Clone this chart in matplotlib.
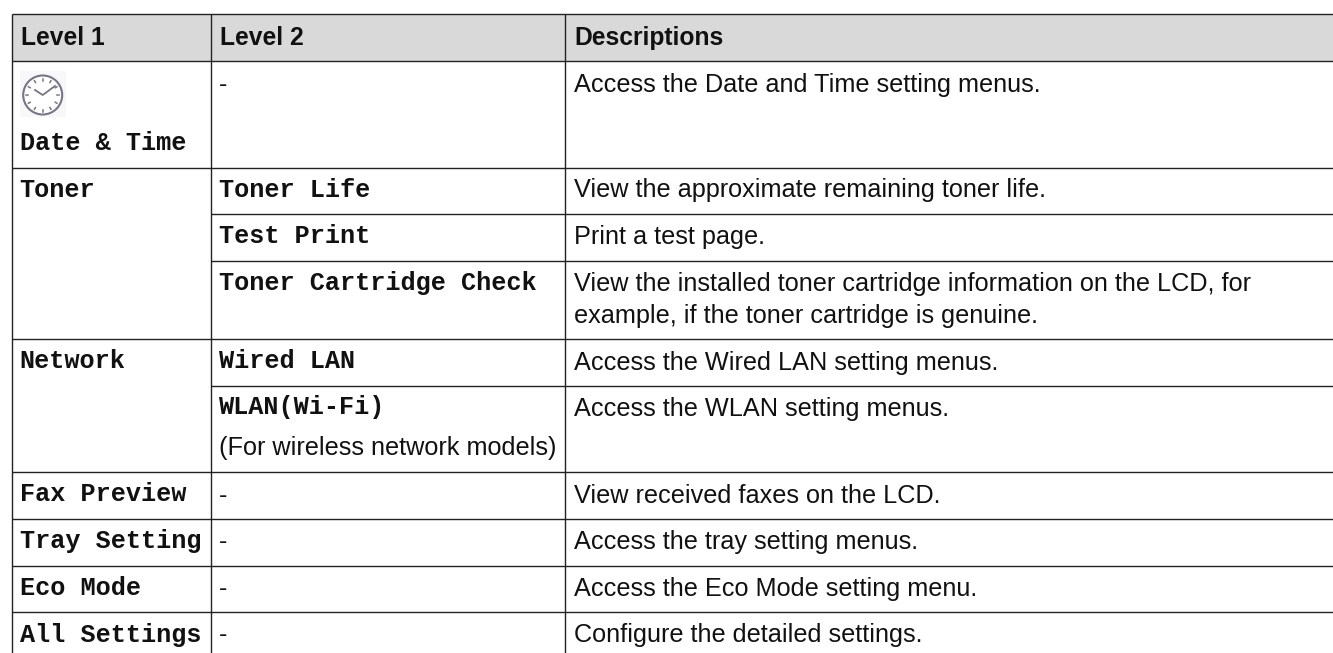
import numpy as np
import matplotlib
matplotlib.use("Agg")
import matplotlib.pyplot as plt
from matplotlib.patches import Rectangle, Circle

W, H = 1333, 653
SANS = "Liberation Sans"
MONO = "Liberation Mono"

headers = ["Level 1", "Level 2", "Descriptions"]
level1 = ["Date & Time", "Toner", "Network", "Fax Preview", "Tray Setting", "Eco Mode", "All Settings"]
level1_y = [150, 196.7, 368.3, 501, 548, 595, 641.7]
level2 = ["Toner Life", "Test Print", "Toner Cartridge Check", "Wired LAN", "WLAN(Wi-Fi)"]
level2_y = [196.7, 242.7, 290, 368.3, 414.3]
note = "(For wireless network models)"
dash_y = [91.7, 502.7, 549.3, 595.7, 642.3]
desc = ["Access the Date and Time setting menus.",
        "View the approximate remaining toner life.",
        "Print a test page.",
        "View the installed toner cartridge information on the LCD, for",
        "example, if the toner cartridge is genuine.",
        "Access the Wired LAN setting menus.",
        "Access the WLAN setting menus.",
        "View received faxes on the LCD.",
        "Access the tray setting menus.",
        "Access the Eco Mode setting menu.",
        "Configure the detailed settings."]
desc_y = [91.7, 197.3, 244.3, 291, 322.7, 370, 416, 502.7, 549.3, 595.7, 642.3]
full_lines = [14, 61, 167.7, 338.5, 471.7, 519, 565.7, 612.3]
level2_lines = [214.3, 261, 385.7]

fig = plt.figure(figsize=(W / 100, H / 100), dpi=100)
ax = fig.add_axes([0, 0, 1, 1])
ax.set_xlim(0, W)
ax.set_ylim(H, 0)
ax.axis("off")

X0, X1, X2 = 11.7, 210.7, 565
ax.add_patch(Rectangle((X0, 14), W - X0, 47, fc="#d9d9d9", ec="none"))
c = "#222222"
for y in full_lines:
    ax.plot([X0, W], [y, y], color=c, lw=1.0, solid_capstyle="butt")
for y in level2_lines:
    ax.plot([X1, W], [y, y], color=c, lw=1.0, solid_capstyle="butt")
for x in [X0, X1, X2]:
    ax.plot([x, x], [14, H], color=c, lw=1.0, solid_capstyle="butt")

TXT = "#111111"
FS = 18.15
for x, t in zip([21, 220, 574], headers):
    ax.text(x, 45, t, family=SANS, weight="bold", fontsize=17.7, va="baseline", color=TXT)
for t, y in zip(level1, level1_y):
    ax.text(19.5, y, t, family=MONO, weight="bold", fontsize=18.2, va="baseline", color=TXT)
for t, y in zip(level2, level2_y):
    ax.text(219.3, y, t, family=MONO, weight="bold", fontsize=18.2, va="baseline", color=TXT)
ax.text(219, 455, note, family=SANS, fontsize=FS, va="baseline", color=TXT)
for y in dash_y:
    ax.text(219, y, "-", family=SANS, fontsize=FS, va="baseline", color=TXT)
for t, y in zip(desc, desc_y):
    ax.text(573.7, y, t, family=SANS, fontsize=FS, va="baseline", color=TXT)

# clock icon
cx, cy, r = 42.7, 95, 19.5
ax.add_patch(Rectangle((20, 70.7), 46, 46.3, fc="#f8f8fa", ec="none"))
ax.add_patch(Circle((cx, cy), r, fc="white", ec="#767684", lw=1.5))
for a in np.arange(0, 360, 30):
    ra = np.deg2rad(a)
    ax.plot([cx + 14.5 * np.cos(ra), cx + 16.5 * np.cos(ra)],
            [cy + 14.5 * np.sin(ra), cy + 16.5 * np.sin(ra)], color="#767684", lw=1.1)
ax.plot([35, cx, 55], [90, cy, 86], color="#767684", lw=1.3)

fig.savefig("out.png", dpi=100, facecolor="white")
